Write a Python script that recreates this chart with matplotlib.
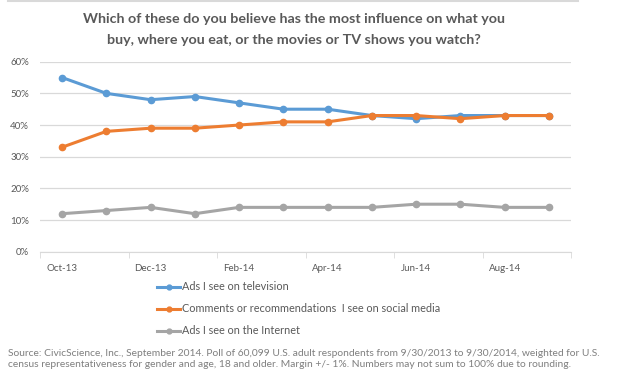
import numpy as np
import matplotlib.pyplot as plt
from matplotlib.lines import Line2D

# data
months = ['Oct-13', 'Nov-13', 'Dec-13', 'Jan-14', 'Feb-14', 'Mar-14',
          'Apr-14', 'May-14', 'Jun-14', 'Jul-14', 'Aug-14', 'Sep-14']
tv = [55, 50, 48, 49, 47, 45, 45, 43, 42, 43, 43, 43]
social = [33, 38, 39, 39, 40, 41, 41, 43, 43, 42, 43, 43]
internet = [12, 13, 14, 12, 14, 14, 14, 14, 15, 15, 14, 14]
labels = ['Ads I see on television',
          'Comments or recommendations  I see on social media',
          'Ads I see on the Internet']
colors = ['#5B9BD5', '#ED7D31', '#A5A5A5']

plt.rcParams['font.family'] = ['Lato', 'DejaVu Sans']
txt = '#595959'

fig = plt.figure(figsize=(6.23, 3.79), dpi=100)
ax = fig.add_axes([40/623, 1-251.7/379, 531/623, 190/379])

x = np.arange(len(months))
for vals, c in zip([tv, social, internet], colors):
    ax.plot(x, vals, color=c, lw=2.2, marker='o', ms=4.5, solid_capstyle='round')

ax.set_xlim(-0.5, len(months)-0.5)
ax.set_ylim(0, 60)
ax.set_yticks(range(0, 61, 10))
ax.set_yticklabels([f'{v}%' for v in range(0, 61, 10)], fontsize=7, color=txt)
ax.yaxis.grid(True, color='#D9D9D9', lw=0.9)
ax.set_axisbelow(True)
ax.tick_params(axis='y', length=0, pad=8)

ax.set_xticks(x[::2])
ax.set_xticklabels(months[::2], fontsize=7, color=txt)
ax.set_xticks(np.arange(-0.5, len(months), 2), minor=True)
ax.tick_params(axis='x', which='major', length=0, pad=9)
ax.tick_params(axis='x', which='minor', length=4, color='#D9D9D9')
for s in ['top', 'right', 'left']:
    ax.spines[s].set_visible(False)
ax.spines['bottom'].set_color('#D9D9D9')

# title
fig.text(294/623, 1-19/379, 'Which of these do you believe has the most influence on what you',
         ha='center', va='center', fontsize=10.3, fontweight='bold', color=txt)
fig.text(294/623, 1-40/379, 'buy, where you eat, or the movies or TV shows you watch?',
         ha='center', va='center', fontsize=10.3, fontweight='bold', color=txt)
fig.add_artist(Line2D([8/623, 578/623], [1-1/379, 1-1/379], color='#D9D9D9', lw=1.5))

# legend
for i, (lab, c) in enumerate(zip(labels, colors)):
    yy = 1-(287+22*i)/379
    fig.add_artist(Line2D([157/623, 180/623], [yy, yy], color=c, lw=2.2))
    fig.add_artist(Line2D([168.5/623], [yy], color=c, marker='o', ms=3.5))
    fig.text(182/623, yy, lab, ha='left', va='center', fontsize=7.8, color=txt)

src = ('Source: CivicScience, Inc., September 2014. Poll of 60,099 U.S. adult respondents from 9/30/2013 to 9/30/2014, weighted for U.S.\n'
       'census representativeness for gender and age, 18 and older. Margin +/- 1%. Numbers may not sum to 100% due to rounding.')
fig.text(8/623, 1-349/379, src, ha='left', va='top', fontsize=7.4, color='#7F7F7F',
         linespacing=1.25)

fig.savefig('out.png', dpi=100)
